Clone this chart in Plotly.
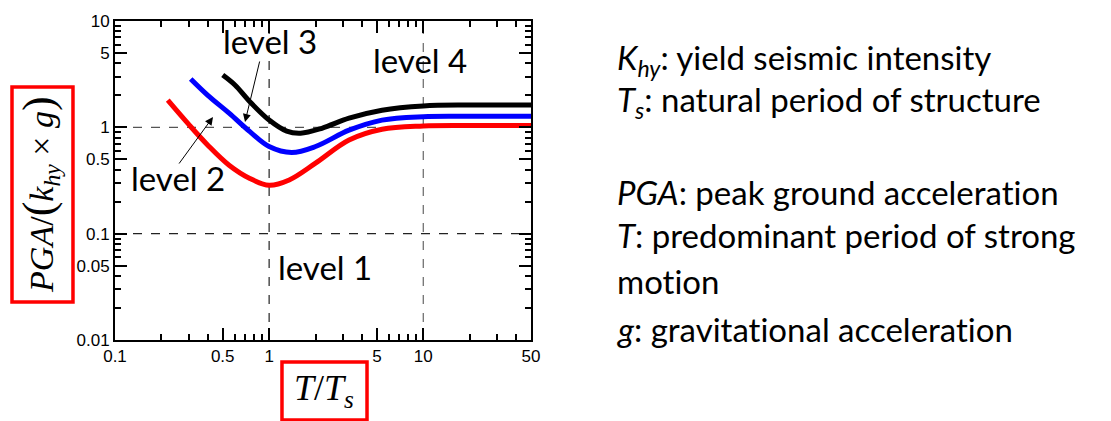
import plotly.graph_objects as go

# ---- data ----
t_red = [0.22, 0.3, 0.4, 0.55, 0.75, 1.0, 1.35, 2.0, 3.3, 5.4, 10, 20, 50]
v_red = [1.8, 1.07, 0.68, 0.44, 0.33, 0.285, 0.32, 0.46, 0.76, 0.96, 1.03, 1.04, 1.04]

t_blue = [0.31, 0.4, 0.55, 0.75, 1.0, 1.4, 2.0, 3.3, 5.4, 10, 20, 50]
v_blue = [2.85, 2.0, 1.36, 0.91, 0.66, 0.58, 0.66, 0.94, 1.17, 1.26, 1.27, 1.27]

t_black = [0.5, 0.6, 0.75, 1.0, 1.3, 1.6, 2.2, 3.3, 5.4, 10, 20, 50]
v_black = [3.1, 2.5, 1.74, 1.17, 0.92, 0.88, 0.98, 1.22, 1.45, 1.59, 1.62, 1.62]

x_major = [0.1, 0.5, 1, 5, 10, 50]
x_major_text = ["0.1", "0.5", "1", "5", "10", "50"]
x_minor = [0.2, 0.3, 0.4, 0.6, 0.7, 0.8, 0.9, 2, 3, 4, 6, 7, 8, 9, 20, 30, 40]
y_major = [0.01, 0.05, 0.1, 0.5, 1, 5, 10]
y_major_text = ["0.01", "0.05", "0.1", "0.5", "1", "5", "10"]
y_minor = [0.02, 0.03, 0.04, 0.06, 0.07, 0.08, 0.09, 0.2, 0.3, 0.4, 0.6, 0.7, 0.8, 0.9,
           2, 3, 4, 6, 7, 8, 9]
grid_x = [1, 10]
grid_y = [0.1, 1]

notes = [
    "<i>K<sub>hy</sub></i>: yield seismic intensity",
    "<i>T<sub>s</sub></i>: natural period of structure",
    "<i>PGA</i>: peak ground acceleration",
    "<i>T</i>: predominant period of strong",
    "motion",
    "<i>g</i>: gravitational acceleration",
]
note_y = [0.878, 0.748, 0.465, 0.330, 0.184, 0.035]

fig = go.Figure()
for t, v, c in [(t_red, v_red, "#ff0000"), (t_blue, v_blue, "#0000ff"), (t_black, v_black, "#000000")]:
    fig.add_trace(go.Scatter(x=t, y=v, mode="lines", line=dict(color=c, width=5, shape="spline", smoothing=1.0),
                             showlegend=False, hoverinfo="skip"))

tickfont = dict(family="Liberation Sans, Arial, sans-serif", size=17, color="black")
fig.update_xaxes(type="log", range=[-1, 1.69897], showgrid=False, zeroline=False, automargin=False,
                 showline=True, linecolor="black", linewidth=2, mirror="allticks",
                 ticks="inside", ticklen=12, tickwidth=1.5, tickcolor="black",
                 tickmode="array", tickvals=x_major, ticktext=x_major_text, tickfont=tickfont,
                 minor=dict(tickmode="array", tickvals=x_minor, ticks="inside", ticklen=6,
                            tickwidth=1.5, tickcolor="black", showgrid=False))
fig.update_yaxes(type="log", range=[-2, 1], showgrid=False, zeroline=False, automargin=False,
                 showline=True, linecolor="black", linewidth=2, mirror="allticks",
                 ticks="inside", ticklen=12, tickwidth=1.5, tickcolor="black",
                 tickmode="array", tickvals=y_major, ticktext=y_major_text, tickfont=tickfont,
                 minor=dict(tickmode="array", tickvals=y_minor, ticks="inside", ticklen=6,
                            tickwidth=1.5, tickcolor="black", showgrid=False))

shapes = []
for gx, col in zip(grid_x, ["#222222", "#666666"]):
    shapes.append(dict(type="line", xref="x", yref="paper", x0=gx, x1=gx,
                       y0=0, y1=1, line=dict(color=col, width=1.2, dash="dash"), layer="below"))
for gy, col in zip(grid_y, ["#222222", "#555555"]):
    shapes.append(dict(type="line", xref="paper", yref="y", x0=0, x1=1, y0=gy,
                       y1=gy, line=dict(color=col, width=1.2, dash="dash"), layer="below"))
# red boxes around axis titles
shapes.append(dict(type="rect", xref="paper", yref="paper", x0=-0.2476, x1=-0.101, y0=0.119, y1=0.793,
                   line=dict(color="#ff0000", width=3.5)))
shapes.append(dict(type="rect", xref="paper", yref="paper", x0=0.4014, x1=0.6058, y0=-0.2508, y1=-0.069,
                   line=dict(color="#ff0000", width=3.5)))

lvl_font = dict(family="Lato, sans-serif", size=33, color="black")
ann = []
for txt, x, y in [("level 3", 0.3726, 0.936), ("level 4", 0.7332, 0.879),
                  ("level 2", 0.1514, 0.507), ("level 1", 0.5048, 0.229)]:
    ann.append(dict(text=txt, xref="paper", yref="paper", x=x, y=y, showarrow=False,
                    xanchor="center", yanchor="middle", font=lvl_font))
# arrows
ann.append(dict(text="", xref="paper", yref="paper", x=0.3125, y=0.6834, ax=15, ay=-62,
                showarrow=True, arrowhead=2, arrowsize=1.6, arrowwidth=1, arrowcolor="black"))
ann.append(dict(text="", xref="paper", yref="paper", x=0.2356, y=0.699, ax=-35, ay=48,
                showarrow=True, arrowhead=2, arrowsize=1.6, arrowwidth=1, arrowcolor="black"))
# axis titles
serif = "Liberation Serif, Times New Roman, serif"
ann.append(dict(text="<i>PGA</i>/<span style='font-size:44px'>(</span><i>k<sub>hy</sub></i> × <i>g</i><span style='font-size:44px'>)</span>",
                xref="paper", yref="paper", x=-0.1805, y=0.4577, textangle=-90, showarrow=False,
                xanchor="center", yanchor="middle", font=dict(family=serif, size=34, color="black")))
ann.append(dict(text="<i>T</i>/<i>T<sub>s</sub></i>", xref="paper", yref="paper", x=0.5035, y=-0.157,
                showarrow=False, xanchor="center", yanchor="middle",
                font=dict(family=serif, size=36, color="black")))
for txt, y in zip(notes, note_y):
    ann.append(dict(text="<span style='font-variant-ligatures:none'>" + txt + "</span>",
                    xref="paper", yref="paper", x=1.2019, y=y, showarrow=False,
                    xanchor="left", yanchor="middle",
                    font=dict(family="Lato, sans-serif", size=33, color="black")))

# page body has an 8px margin, so the figure is drawn 8px in from the top-left
fig.update_layout(width=1103, height=413, margin=dict(l=107, r=580, t=13, b=81),
                  paper_bgcolor="white", plot_bgcolor="white", shapes=shapes, annotations=ann,
                  showlegend=False)
fig.write_html("out.html")
